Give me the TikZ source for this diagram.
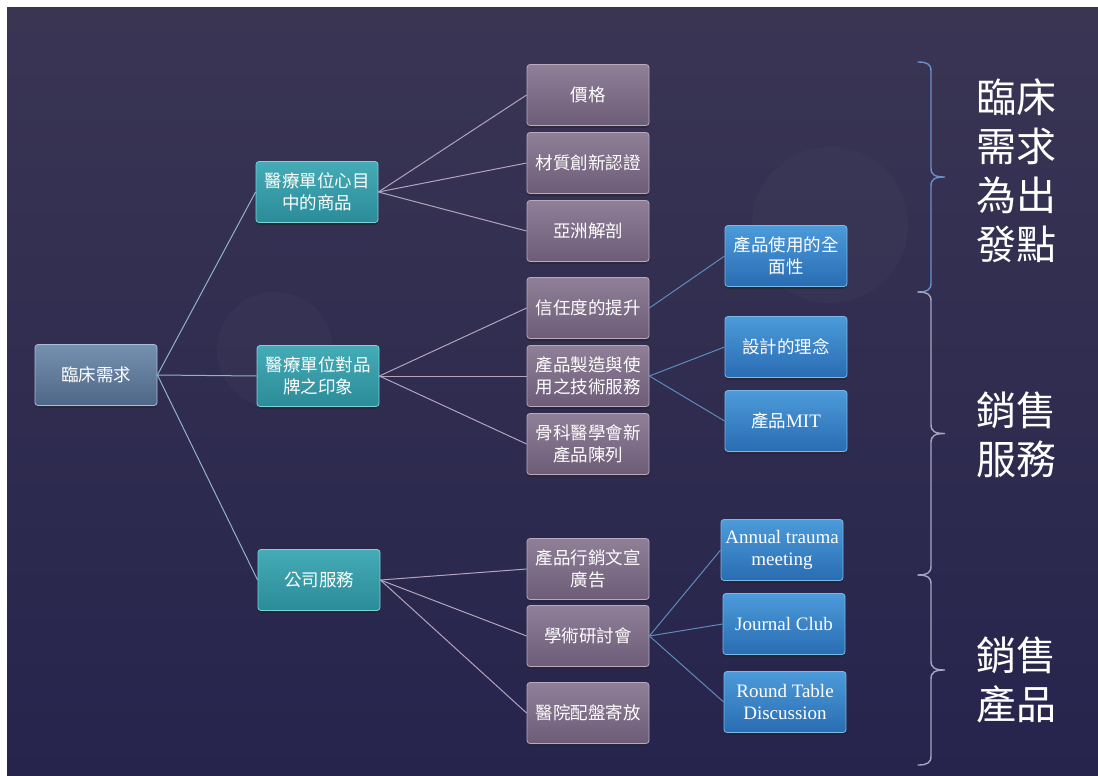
\documentclass[tikz,border=0pt]{standalone}
\usepackage{fontspec}
\setmainfont{Liberation Serif}
\newfontfamily\cjk{Noto Sans CJK TC}
\usetikzlibrary{shadows}

\definecolor{bgtop}{HTML}{3A3553}
\definecolor{bgbot}{HTML}{26244D}
\definecolor{lnroot}{HTML}{8FB3C9}
\definecolor{lnmauve}{HTML}{B3A3BD}
\definecolor{lnblue}{HTML}{5B8CBA}
\definecolor{brblue}{HTML}{6A90CC}
\definecolor{brgrey}{HTML}{A8A5C2}
\definecolor{rootA}{HTML}{7590B0}
\definecolor{rootB}{HTML}{4F6787}
\definecolor{rootE}{HTML}{A9BDD6}
\definecolor{tealA}{HTML}{45ABB6}
\definecolor{tealB}{HTML}{2A8C98}
\definecolor{tealE}{HTML}{7AD3DA}
\definecolor{mauveA}{HTML}{8F7F97}
\definecolor{mauveB}{HTML}{6C5C77}
\definecolor{mauveE}{HTML}{B9A9BF}
\definecolor{blueA}{HTML}{4C9BDA}
\definecolor{blueB}{HTML}{296CB2}
\definecolor{blueE}{HTML}{7AB8EA}

\tikzset{
  card/.style={rounded corners=3pt, minimum width=122pt, minimum height=61pt,
    inner sep=1pt, align=center, text=white, line width=0.8pt,
    font=\cjk\fontsize{17.5}{22}\selectfont,
    drop shadow={shadow xshift=0pt, shadow yshift=-2.5pt, opacity=0.55, fill=black!85}},
  rootcard/.style={card, top color=rootA, bottom color=rootB, draw=rootE},
  tealcard/.style={card, top color=tealA, bottom color=tealB, draw=tealE},
  mauvecard/.style={card, top color=mauveA, bottom color=mauveB, draw=mauveE},
  bluecard/.style={card, top color=blueA, bottom color=blueB, draw=blueE},
  latin/.style={font=\fontsize{19}{22}\selectfont},
  link/.style={line width=1pt},
  bracket/.style={line width=1.4pt, line cap=round},
  sidetext/.style={text=white, align=center, font=\cjk\fontsize{40}{49}\selectfont}
}

% a right-pointing curly bracket from #1 (top y) to #2 (bottom y)
\newcommand{\sidebracket}[3]{%
  \pgfmathsetmacro{\bmid}{(#1+#2)/2}%
  \draw[bracket, #3] (918,#1) .. controls (927,#1) and (931,#1+2) .. (931,#1+9)
    -- (931,\bmid-9) .. controls (931,\bmid-2) and (935,\bmid) .. (945,\bmid)
    .. controls (935,\bmid) and (931,\bmid+2) .. (931,\bmid+9)
    -- (931,#2-9) .. controls (931,#2-2) and (927,#2) .. (918,#2);}

\begin{document}
\begin{tikzpicture}[x=1pt, y=-1pt]
  \useasboundingbox (0,0) rectangle (1098,776);
  \fill[white] (0,0) rectangle (1098,776);
  % backdrop
  \shade[top color=bgtop, bottom color=bgbot] (7,8) rectangle (1098,776);
  \fill[white, opacity=0.018] (275,350) circle (58);
  \fill[white, opacity=0.018] (830,225) circle (78);

  % root
  \node[rootcard] (root) at (96,375) {臨床需求};

  % second level
  \node[tealcard] (t1) at (317,192) {醫療單位心目\\中的商品};
  \node[tealcard] (t2) at (318,376) {醫療單位對品\\牌之印象};
  \node[tealcard] (t3) at (319,580) {公司服務};

  % third level
  \node[mauvecard] (p1) at (588,95) {價格};
  \node[mauvecard] (p2) at (588,163) {材質創新認證};
  \node[mauvecard] (p3) at (588,231) {亞洲解剖};
  \node[mauvecard] (p4) at (588,308) {信任度的提升};
  \node[mauvecard] (p5) at (588,376) {產品製造與使\\用之技術服務};
  \node[mauvecard] (p6) at (588,444) {骨科醫學會新\\產品陳列};
  \node[mauvecard] (p7) at (588,569) {產品行銷文宣\\廣告};
  \node[mauvecard] (p8) at (588,636) {學術研討會};
  \node[mauvecard] (p9) at (588,713) {醫院配盤寄放};

  % fourth level
  \node[bluecard] (b1) at (786,256) {產品使用的全\\面性};
  \node[bluecard] (b2) at (786,347) {設計的理念};
  \node[bluecard] (b3) at (786,421) {產品{\rmfamily\fontsize{19}{22}\selectfont MIT}};
  \node[bluecard, latin] (b4) at (782,550) {Annual trauma\\meeting};
  \node[bluecard, latin] (b5) at (784,624) {Journal Club};
  \node[bluecard, latin] (b6) at (785,702) {Round Table\\Discussion};

  % connectors
  \foreach \c in {t1,t2,t3}
    \draw[link, lnroot] (root.east) -- (\c.west);
  \foreach \c in {p1,p2,p3}
    \draw[link, lnmauve] (t1.east) -- (\c.west);
  \foreach \c in {p4,p5,p6}
    \draw[link, lnmauve] (t2.east) -- (\c.west);
  \foreach \c in {p7,p8,p9}
    \draw[link, lnmauve] (t3.east) -- (\c.west);
  \draw[link, lnblue] (p4.east) -- (b1.west);
  \foreach \c in {b2,b3}
    \draw[link, lnblue] (p5.east) -- (\c.west);
  \foreach \c in {b4,b5,b6}
    \draw[link, lnblue] (p8.east) -- (\c.west);

  % side brackets
  \sidebracket{62}{292}{brblue}
  \sidebracket{292}{575}{brgrey}
  \sidebracket{575}{765}{brgrey}

  \node[sidetext] (s1) at (1016,171) {臨床\\需求\\為出\\發點};
  \node[sidetext] (s2) at (1016,435) {銷售\\服務};
  \node[sidetext] (s3) at (1016,680) {銷售\\產品};
\end{tikzpicture}
\end{document}
